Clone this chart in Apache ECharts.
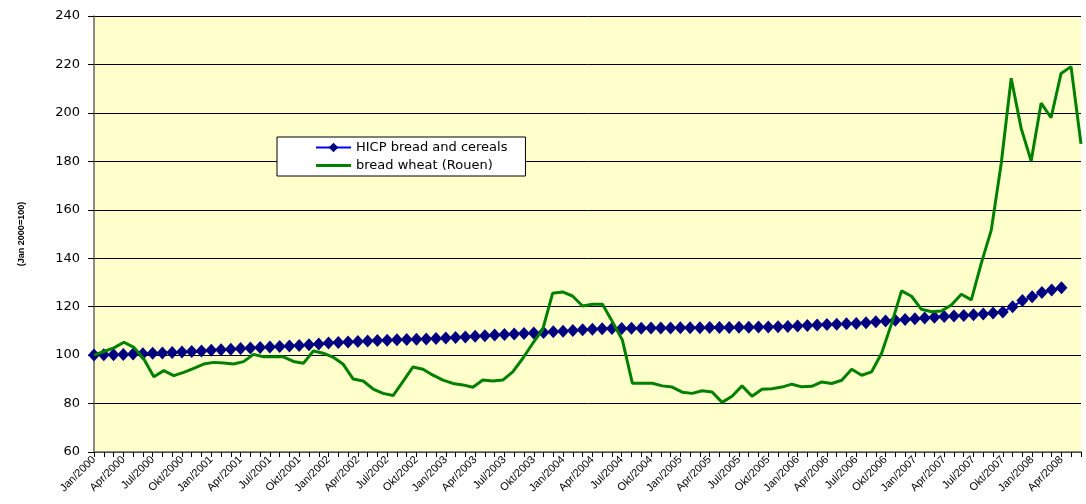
<!DOCTYPE html>
<html>
<head>
<meta charset="utf-8">
<title>HICP bread and cereals vs. bread wheat (Rouen)</title>
<script src="https://cdn.jsdelivr.net/npm/echarts@6.0.0/dist/echarts.min.js"></script>
<style>
  html, body { margin: 0; padding: 0; background: #fff; }
  #chart { width: 1086px; height: 504px; }
</style>
</head>
<body>
<div id="chart"></div>
<script>
// Month abbreviations and years used for the monthly category axis
const MONTHS = ['Jan', 'Feb', 'Mrz', 'Apr', 'Mai', 'Jun', 'Jul', 'Aug', 'Sep', 'Okt', 'Nov', 'Dez'];
const YEARS = [2000, 2001, 2002, 2003, 2004, 2005, 2006, 2007, 2008];

// Index values (Jan 2000 = 100), monthly from Jan/2000 to Apr/2008
const HICP = [
  100.0, 100.1, 100.2, 100.3, 100.5, 100.6, 100.8, 100.9, 101.1, 101.3, 101.5, 101.7,
  102.0, 102.2, 102.4, 102.7, 102.9, 103.1, 103.4, 103.6, 103.8, 104.0, 104.3, 104.6,
  105.0, 105.2, 105.4, 105.6, 105.8, 106.0, 106.1, 106.3, 106.4, 106.5, 106.7, 106.9,
  107.1, 107.3, 107.5, 107.8, 108.0, 108.3, 108.5, 108.7, 108.9, 109.1, 109.3, 109.6,
  109.9, 110.2, 110.5, 110.7, 110.9, 111.0, 111.0, 111.1, 111.1, 111.2, 111.2, 111.2,
  111.3, 111.3, 111.3, 111.4, 111.4, 111.4, 111.5, 111.5, 111.6, 111.6, 111.7, 111.8,
  112.0, 112.2, 112.4, 112.6, 112.7, 112.9, 113.1, 113.4, 113.8, 114.1, 114.4, 114.7,
  115.0, 115.3, 115.6, 115.9, 116.1, 116.4, 116.7, 117.0, 117.4, 117.8, 120.0, 122.5,
  124.1, 125.8, 126.9, 127.8
];

const WHEAT = [
  100.0, 101.5, 103.0, 105.3, 103.2, 98.4, 91.1, 93.6, 91.5, 92.9, 94.5, 96.3,
  97.0, 96.7, 96.3, 97.3, 100.3, 99.3, 99.3, 99.3, 97.4, 96.6, 101.7, 100.8,
  99.1, 96.2, 90.1, 89.3, 86.0, 84.2, 83.3, 89.2, 95.1, 94.2, 91.7, 89.7,
  88.3, 87.7, 86.7, 89.7, 89.3, 89.7, 93.1, 98.6, 104.8, 110.5, 125.5, 126.1,
  124.4, 120.3, 121.0, 121.0, 113.8, 106.2, 88.4, 88.4, 88.4, 87.3, 86.8, 84.7,
  84.2, 85.3, 84.8, 80.5, 83.0, 87.3, 83.0, 85.9, 86.1, 86.8, 88.0, 86.9,
  87.1, 88.9, 88.3, 89.6, 94.2, 91.7, 93.1, 100.8, 113.0, 126.5, 124.3, 118.9,
  117.9, 118.2, 120.7, 125.1, 122.8, 138.0, 151.6, 179.2, 214.3, 193.6, 180.1, 204.0,
  198.0, 216.3, 219.1, 187.2
];

// Axis ranges
const Y_MIN = 60, Y_MAX = 240, Y_STEP = 20;
const AXIS_MONTHS = 102;   // Jan/2000 .. Jun/2008 on the labelled axis

function monthLabels(count) {
  const out = [];
  for (let i = 0; i < count; i++) {
    out.push(MONTHS[i % 12] + '/' + YEARS[Math.floor(i / 12)]);
  }
  return out;
}

const axisCategories = monthLabels(AXIS_MONTHS);
const wheatCategories = monthLabels(WHEAT.length);

const chart = echarts.init(document.getElementById('chart'), null, { renderer: 'canvas' });

chart.setOption({
  backgroundColor: '#ffffff',
  animation: false,
  textStyle: { fontFamily: 'Liberation Sans, Arial, sans-serif', color: '#000' },
  grid: {
    left: 94, top: 16, width: 987, height: 436,
    show: true, backgroundColor: '#FFFFCC', borderWidth: 0
  },
  legend: {
    orient: 'vertical',
    left: 277, top: 137,
    backgroundColor: '#ffffff',
    borderColor: '#000000', borderWidth: 1, borderRadius: 0,
    padding: [4, 18, 4, 38],
    itemGap: 5, itemWidth: 35, itemHeight: 12,
    textStyle: { fontFamily: 'DejaVu Sans, sans-serif', fontSize: 13, color: '#000' },
    data: [
      { name: 'HICP bread and cereals' },
      // plain line swatch for the wheat series (no marker)
      { name: 'bread wheat (Rouen)', icon: 'path://M0,0 L35,0 L35,3 L0,3 Z' }
    ]
  },
  xAxis: [
    {
      type: 'category',
      data: axisCategories,
      boundaryGap: false,
      axisLine: { lineStyle: { color: '#666666', width: 1.5 } },
      axisTick: { show: true, interval: 0, length: 5, lineStyle: { color: '#000' } },
      axisLabel: {
        interval: 2, rotate: 45, margin: 6,
        fontSize: 11, color: '#000', fontFamily: 'Liberation Sans, Arial, sans-serif'
      },
      splitLine: { show: false }
    },
    {
      type: 'category',
      data: wheatCategories,
      boundaryGap: false,
      show: false
    }
  ],
  yAxis: {
    type: 'value',
    min: Y_MIN, max: Y_MAX, interval: Y_STEP,
    name: '(Jan 2000=100)',
    nameLocation: 'middle', nameRotate: 90, nameGap: 68,
    nameTextStyle: { fontWeight: 'bold', fontSize: 9, color: '#000', fontFamily: 'Liberation Sans, Arial, sans-serif' },
    axisLine: { show: true, lineStyle: { color: '#666666', width: 1.5 } },
    axisTick: { show: true, length: 6, lineStyle: { color: '#000' } },
    axisLabel: { margin: 14, fontSize: 13, color: '#000', fontFamily: 'DejaVu Sans, sans-serif' },
    splitLine: { show: true, lineStyle: { color: '#000', width: 1 } }
  },
  series: [
    {
      name: 'HICP bread and cereals',
      type: 'line',
      xAxisIndex: 0,
      data: HICP,
      symbol: 'diamond', symbolSize: [12, 13],
      showSymbol: true, showAllSymbol: true,
      lineStyle: { color: '#0000FF', width: 2 },
      itemStyle: { color: '#000080' },
      z: 2
    },
    {
      name: 'bread wheat (Rouen)',
      type: 'line',
      xAxisIndex: 1,
      data: WHEAT,
      symbol: 'none',
      lineStyle: { color: '#008000', width: 3 },
      itemStyle: { color: '#008000' },
      z: 3
    }
  ]
});
</script>
</body>
</html>
